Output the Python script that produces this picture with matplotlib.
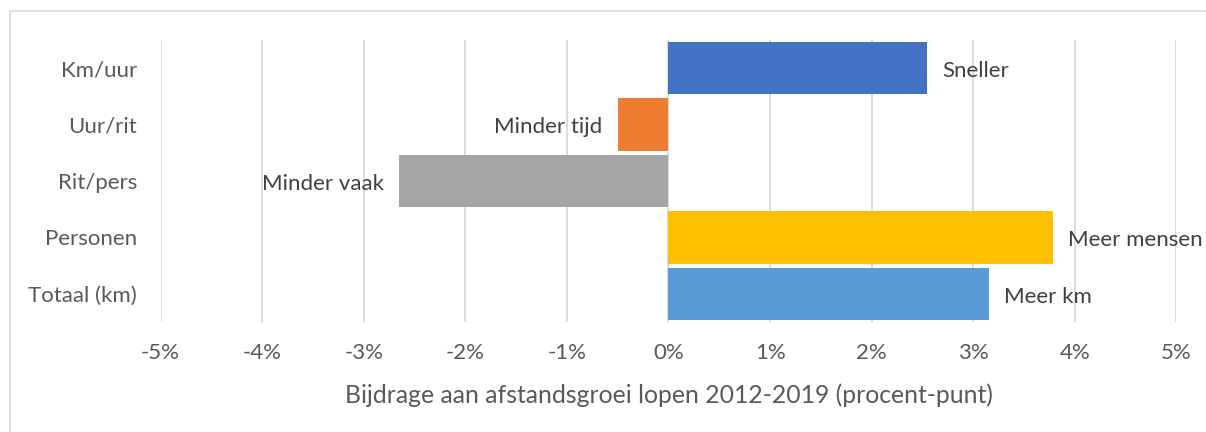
import matplotlib
matplotlib.use("Agg")
import matplotlib.pyplot as plt
from matplotlib.lines import Line2D

plt.rcParams['font.family'] = ['Lato', 'DejaVu Sans']

# data (bottom to top)
categories = ["Totaal (km)", "Personen", "Rit/pers", "Uur/rit", "Km/uur"]
values = [3.15, 3.78, -2.65, -0.50, 2.54]
labels = ["Meer km", "Meer mensen", "Minder vaak", "Minder tijd", "Sneller"]
colors = ["#5B9BD5", "#FFC000", "#A5A5A5", "#ED7D31", "#4472C4"]
ticks = [-5, -4, -3, -2, -1, 0, 1, 2, 3, 4, 5]

txt = "#595959"

fig = plt.figure(figsize=(12.06, 4.32), dpi=100)
ax = fig.add_axes([0.1331, 0.2546, 0.8424, 0.6528])

ax.barh(range(len(categories)), values, height=0.93, color=colors, zorder=2)

for i, (v, lab) in enumerate(zip(values, labels)):
    off = 11 if v >= 0 else -11
    ax.annotate(lab, (v, i), xytext=(off, -2), textcoords="offset points",
                ha="left" if v >= 0 else "right", va="center",
                fontsize=16, color="#404040")

ax.set_xlim(-5, 5)
ax.set_ylim(-0.5, len(categories) - 0.5)
ax.set_xticks(ticks)
ax.set_xticklabels([f"{t}%" for t in ticks])
ax.set_yticks(range(len(categories)))
ax.set_yticklabels(categories)
ax.tick_params(axis="both", length=0, labelsize=16, labelcolor=txt)
ax.tick_params(axis="x", pad=15)
ax.tick_params(axis="y", pad=17)
ax.grid(axis="x", color="#D9D9D9", linewidth=1.3, zorder=0)
for s in ax.spines.values():
    s.set_visible(False)

ax.set_xlabel("Bijdrage aan afstandsgroei lopen 2012-2019 (procent-punt)",
              fontsize=17.8, color=txt, labelpad=15)

# chart frame (partly clipped by image edge)
fx = 10 / 1206
fy = 1 - 11 / 432
fig.add_artist(Line2D([fx, fx], [0, fy], transform=fig.transFigure, color="#D9D9D9", lw=1.2))
fig.add_artist(Line2D([fx, 1], [fy, fy], transform=fig.transFigure, color="#D9D9D9", lw=1.2))

fig.savefig("out.png", dpi=100, facecolor="white")
